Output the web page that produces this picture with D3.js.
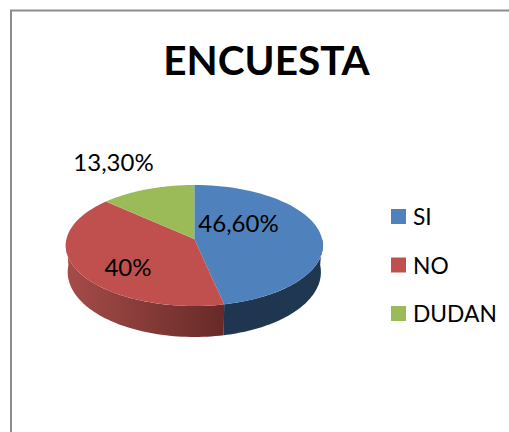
<!DOCTYPE html>
<html><head><meta charset="utf-8">
<script src="https://cdn.jsdelivr.net/npm/d3@7/dist/d3.min.js"></script>
<style>html,body{margin:0;padding:0;background:#fff;overflow:hidden}svg{display:block}text{font-family:Lato,"Open Sans",sans-serif;fill:#000}</style>
</head><body><svg id="c" width="509" height="432"></svg>
<script>
const categories = ["SI", "NO", "DUDAN"];
const values = [46.6, 40, 13.3];
const valueLabels = ["46,60%", "40%", "13,30%"];
const colors = ["#4f81bd", "#c0504d", "#9bbb59"];
const title = "ENCUESTA";

const svg = d3.select("#c");
const cx = 194.3, cy = 239, R = 127.8, S = 59.8, k = 0.1074;
const project = a => {
  const u = Math.sin(a), v = -Math.cos(a), w = 1 - k * v;
  return [cx + R * u / w, cy + S * v / w];
};
const lower = a => {
  const p = project(a), v = -Math.cos(a);
  return [cx + (p[0] - cx) * 0.985, p[1] + 26 + 5 * Math.max(v, 0)];
};
const samples = (a0, a1) => d3.range(0, 61).map(i => a0 + (a1 - a0) * i / 60);
const line = d3.line();

const pie = d3.pie().sort(null)(values);

// frame
svg.append("path").attr("d", "M11,432V10.5H509").attr("fill", "none").attr("stroke", "#8c8c8c").attr("stroke-width", 2);

// gradients for the side wall
const defs = svg.append("defs");
const wallStops = [["#1f3550", "#203752"], ["#a54c49", "#672a28"]];
wallStops.forEach((s, i) => {
  const g = defs.append("linearGradient").attr("id", "wall" + i).attr("gradientUnits", "objectBoundingBox");
  g.append("stop").attr("offset", 0).attr("stop-color", s[0]);
  g.append("stop").attr("offset", 1).attr("stop-color", s[1]);
});

// side wall: only the part of each slice that faces the viewer
pie.forEach((d, i) => {
  const a0 = Math.max(d.startAngle, Math.PI / 2), a1 = Math.min(d.endAngle, 3 * Math.PI / 2);
  if (a1 <= a0) return;
  const top = samples(a0, a1).map(project);
  const bottom = samples(a1, a0).map(lower);
  svg.append("path").attr("d", line(top.concat(bottom)) + "Z").attr("fill", `url(#wall${i})`);
});

// top face
pie.forEach((d, i) => {
  const pts = [[cx, cy]].concat(samples(d.startAngle, d.endAngle).map(project));
  svg.append("path").attr("d", line(pts) + "Z").attr("fill", colors[i]);
});

// title
svg.append("text").attr("x", 266.5).attr("y", 75).attr("text-anchor", "middle")
  .attr("font-size", 40.5).attr("font-weight", 700).text(title);

// data labels
const labelAt = [[238.5, 232], [128, 276], [113.5, 171]];
valueLabels.forEach((t, i) => {
  svg.append("text").attr("x", labelAt[i][0]).attr("y", labelAt[i][1]).attr("text-anchor", "middle")
    .attr("font-size", 24).text(t);
});

// legend
const legendY = d3.scalePoint().domain(categories).range([216.5, 313.5]);
categories.forEach((c, i) => {
  svg.append("rect").attr("x", 391).attr("y", legendY(c) - 7.5).attr("width", 15).attr("height", 15).attr("fill", colors[i]);
  svg.append("text").attr("x", 413).attr("y", legendY(c) + 8.5).attr("font-size", 22.8).text(c);
});
</script></body></html>
